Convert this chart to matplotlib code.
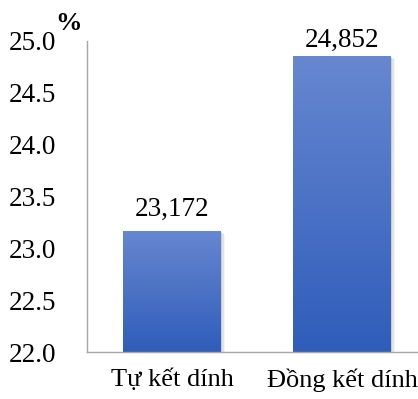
import numpy as np
import matplotlib.pyplot as plt
from matplotlib.colors import LinearSegmentedColormap
from matplotlib.patches import Rectangle
from matplotlib.ticker import FuncFormatter

categories = ['Tự kết dính', 'Đồng kết dính']
values = [23.172, 24.852]
value_labels = ['23,172', '24,852']
yticks = [22.0, 22.5, 23.0, 23.5, 24.0, 24.5, 25.0]

plt.rcParams['font.family'] = ['Liberation Serif', 'DejaVu Serif']

fig = plt.figure(figsize=(4.18, 3.99), dpi=100)
ax = fig.add_axes([87 / 418, 47 / 399, 340 / 418, 311 / 399])

x = np.arange(len(categories))
width = 0.576
base = 22.0
label_gap = [0.085, 0.035]

grad = LinearSegmentedColormap.from_list('bar', ['#2f5dba', '#6787d0'])
g = np.linspace(0, 1, 256).reshape(-1, 1)

for i, (xi, v) in enumerate(zip(x, values)):
    # soft shadow to the right and below
    for k, a in enumerate([0.10, 0.07, 0.04]):
        off = 0.008 * (k + 1)
        ax.add_patch(Rectangle((xi - width / 2 + off, base), width, v - base - 0.01 * (k + 1),
                               facecolor='#000000', alpha=a, edgecolor='none', zorder=1))
    bar = ax.bar(xi, v - base, width, bottom=base, color='none', zorder=2)[0]
    im = ax.imshow(g, cmap=grad, aspect='auto', origin='lower',
                   extent=(xi - width / 2, xi + width / 2, base, v), zorder=2)
    im.set_clip_path(bar)
    ax.text(xi, v + label_gap[i], value_labels[i], ha='center', va='bottom',
            fontsize=19.5)

ax.set_xlim(-0.5, 1.5)
ax.set_ylim(22.0, 25.0)
ax.set_yticks(yticks)
ax.yaxis.set_major_formatter(FuncFormatter(lambda v, p: f'{v:.1f}'))
ax.set_xticks(x)
ax.set_xticklabels(categories)
ax.tick_params(axis='y', length=0, pad=22, labelsize=19.5)
ax.tick_params(axis='x', length=0, pad=12, labelsize=19)

for s in ['top', 'right']:
    ax.spines[s].set_visible(False)
for s in ['left', 'bottom']:
    ax.spines[s].set_color('#a6a6a6')
    ax.spines[s].set_linewidth(1.0)

ax.text(-0.055, 1.02, '%', transform=ax.transAxes, fontsize=19, fontweight='bold',
        ha='center', va='bottom')

fig.savefig('out.png', dpi=100)
